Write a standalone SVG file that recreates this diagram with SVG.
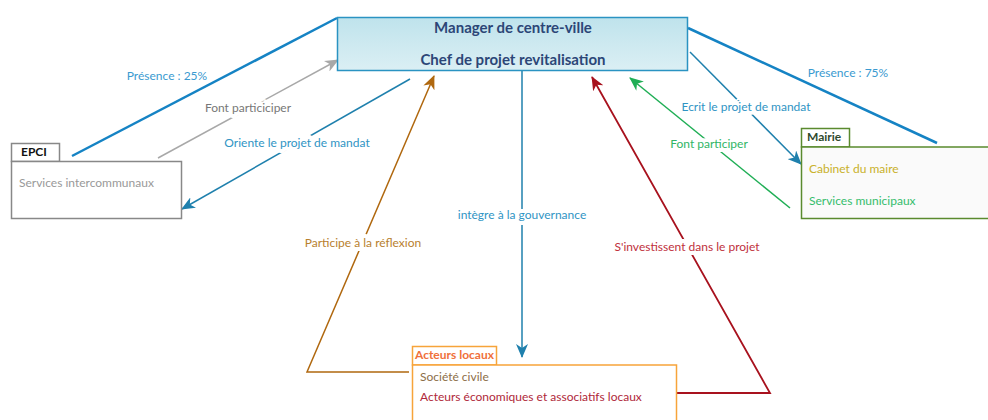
<svg xmlns="http://www.w3.org/2000/svg" width="988" height="420" viewBox="0 0 988 420">
<defs>
<linearGradient id="gMain" x1="0" y1="0" x2="0" y2="1"><stop offset="0" stop-color="#bfe3ec"/><stop offset="1" stop-color="#dbeff4"/></linearGradient>
<marker id="aGray" viewBox="0 0 14 12" refX="13" refY="6" markerWidth="14" markerHeight="12" markerUnits="userSpaceOnUse" orient="auto"><path d="M0,0 L14,6 L0,12 L4,6 Z" fill="#a8a8a8"/></marker>
<marker id="aBlue" viewBox="0 0 14 12" refX="13" refY="6" markerWidth="14" markerHeight="12" markerUnits="userSpaceOnUse" orient="auto"><path d="M0,0 L14,6 L0,12 L4,6 Z" fill="#1f80ad"/></marker>
<marker id="aBrown" viewBox="0 0 14 12" refX="13" refY="6" markerWidth="14" markerHeight="12" markerUnits="userSpaceOnUse" orient="auto"><path d="M0,0 L14,6 L0,12 L4,6 Z" fill="#b0680f"/></marker>
<marker id="aRed" viewBox="0 0 14 12" refX="13" refY="6" markerWidth="14" markerHeight="12" markerUnits="userSpaceOnUse" orient="auto"><path d="M0,0 L14,6 L0,12 L4,6 Z" fill="#a8121e"/></marker>
<marker id="aGreen" viewBox="0 0 14 12" refX="13" refY="6" markerWidth="14" markerHeight="12" markerUnits="userSpaceOnUse" orient="auto"><path d="M0,0 L14,6 L0,12 L4,6 Z" fill="#1fae55"/></marker>
</defs>
<style>
text{font-family:Lato,"Open Sans","Liberation Sans",sans-serif;}
.lbl{font-size:12px;text-anchor:middle;stroke:#fff;stroke-width:8px;paint-order:stroke;stroke-linejoin:round;}
.c{fill:none;}
.item{font-size:12px;}
.tab{font-size:12px;font-weight:bold;}
.title{font-size:15px;font-weight:bold;text-anchor:middle;fill:#2c4677;}
</style>
<rect width="988" height="420" fill="#fff"/>
<g id="connectors">
<line class="c" x1="72" y1="156" x2="337" y2="18" stroke="#1583c4" stroke-width="2.5"/>
<line class="c" x1="688" y1="28" x2="937" y2="143" stroke="#1583c4" stroke-width="2.5"/>
<line class="c" x1="158" y1="158" x2="338" y2="60" stroke="#a8a8a8" stroke-width="1.5" marker-end="url(#aGray)"/>
<line class="c" x1="410" y1="79" x2="182" y2="209" stroke="#1f80ad" stroke-width="1.5" marker-end="url(#aBlue)"/>
<polyline class="c" points="409,372 307,372 434,76" stroke="#b0680f" stroke-width="1.5" marker-end="url(#aBrown)"/>
<line class="c" x1="522" y1="71" x2="522" y2="357" stroke="#1f80ad" stroke-width="1.5" marker-end="url(#aBlue)"/>
<polyline class="c" points="675,393 770,393 592,77" stroke="#a8121e" stroke-width="1.8" marker-end="url(#aRed)"/>
<line class="c" x1="790" y1="208" x2="630" y2="78" stroke="#1fae55" stroke-width="1.5" marker-end="url(#aGreen)"/>
<line class="c" x1="690" y1="52" x2="801" y2="164" stroke="#1f80ad" stroke-width="1.5" marker-end="url(#aBlue)"/>
<text class="lbl" x="167" y="80" fill="#3a9ad0">Présence : 25%</text>
<text class="lbl" x="848" y="77" fill="#3a9ad0">Présence : 75%</text>
<text class="lbl" x="248" y="112" fill="#777">Font particiciper</text>
<text class="lbl" x="297" y="147" fill="#2f94c4">Oriente le projet de mandat</text>
<text class="lbl" x="363" y="247" fill="#b8802e">Participe à la réflexion</text>
<text class="lbl" x="522" y="219" fill="#2f94c4">intègre à la gouvernance</text>
<text class="lbl" x="687" y="251" fill="#c0303c">S'investissent dans le projet</text>
<text class="lbl" x="709" y="148" fill="#30b565">Font participer</text>
<text class="lbl" x="746" y="111" fill="#2f94c4">Ecrit le projet de mandat</text>
</g>
<g id="main">
<rect x="337.5" y="17.5" width="350" height="53" fill="url(#gMain)" stroke="#2a93c2" stroke-width="1.5"/>
<text class="title" x="513" y="33">Manager de centre-ville</text>
<text class="title" x="513" y="65">Chef de projet revitalisation</text>
</g>
<g id="epci">
<rect x="11.5" y="143.5" width="48" height="18" fill="#fff" stroke="#888" stroke-width="1.5"/>
<rect x="11.5" y="161.5" width="170" height="57" fill="#fff" stroke="#888" stroke-width="1.5"/>
<text class="tab" x="21" y="156" fill="#111">EPCI</text>
<text class="item" x="19" y="187" fill="#999">Services intercommunaux</text>
</g>
<g id="mairie">
<rect x="801.5" y="128.5" width="48" height="18.5" fill="#fff" stroke="#5a8a2e" stroke-width="1.5"/>
<rect x="801.5" y="147" width="190" height="71.5" fill="#fafafa" stroke="#5a8a2e" stroke-width="1.5"/>
<text class="tab" x="807" y="141" fill="#2f4a2e">Mairie</text>
<text class="item" x="809" y="173" fill="#c9b12a">Cabinet du maire</text>
<text class="item" x="809" y="205" fill="#35bd6c">Services municipaux</text>
</g>
<g id="acteurs">
<rect x="412.5" y="346.5" width="84" height="18.5" fill="#fff" stroke="#f7a43a" stroke-width="1.5"/>
<rect x="412.5" y="365" width="264" height="60" fill="#fff" stroke="#f7a43a" stroke-width="1.5"/>
<text class="tab" x="415" y="359" fill="#f0703a">Acteurs locaux</text>
<text class="item" x="420" y="381" fill="#8c6e48">Société civile</text>
<text class="item" x="420" y="401" fill="#b0283a">Acteurs économiques et associatifs locaux</text>
</g>
</svg>
